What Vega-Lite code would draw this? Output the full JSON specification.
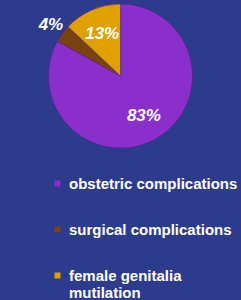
{
  "$schema": "https://vega.github.io/schema/vega-lite/v6.json",
  "width": 241,
  "height": 152,
  "autosize": {"type": "pad"},
  "padding": 0,
  "background": "#2d3b8d",
  "view": {"stroke": null},
  "data": {"values": [
    {"i": 1, "cause": "obstetric complications", "pct": 83, "label": "83%"},
    {"i": 2, "cause": "surgical complications", "pct": 4, "label": "4%"},
    {"i": 3, "cause": "female genitalia mutilation", "pct": 13, "label": "13%"}
  ]},
  "encoding": {
    "theta": {"field": "pct", "type": "quantitative", "stack": true},
    "order": {"field": "i", "type": "quantitative"},
    "color": {
      "field": "cause", "type": "nominal",
      "scale": {"domain": ["obstetric complications", "surgical complications", "female genitalia mutilation"], "range": ["#8a2fcc", "#7a4210", "#e0a000"]},
      "legend": {
        "orient": "none", "legendX": 50, "legendY": 176, "title": null,
        "symbolType": "square", "symbolSize": 36, "symbolStrokeWidth": 0,
        "labelColor": "white", "labelFont": "Liberation Sans", "labelFontSize": 15, "labelFontWeight": "bold",
        "labelLimit": 300, "rowPadding": 30, "labelOffset": 4,
        "labelExpr": "datum.label == 'female genitalia mutilation' ? ['female genitalia', 'mutilation'] : datum.label"
      }
    }
  },
  "layer": [
    {"mark": {"type": "arc", "outerRadius": 72, "stroke": "#5a1d8a", "strokeWidth": 0.5}},
    {"mark": {"type": "text", "radius": {"expr": "datum.i == 2 ? 86 : 46"}, "font": "Liberation Sans", "fontSize": 17, "fontWeight": "bold", "fontStyle": "italic"},
     "encoding": {"text": {"field": "label", "type": "nominal"}, "color": {"value": "white"}}}
  ]
}
